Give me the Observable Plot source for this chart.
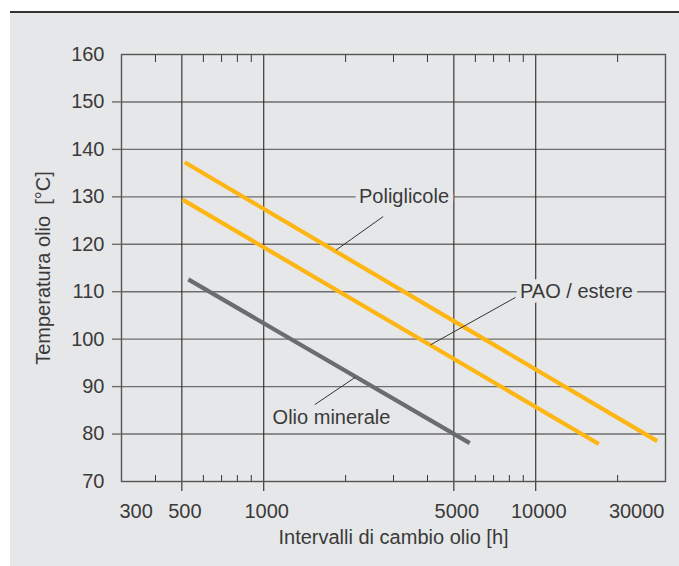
<!DOCTYPE html>
<html>
<head>
<meta charset="utf-8">
<script src="https://cdn.jsdelivr.net/npm/d3@7"></script>
<script src="https://cdn.jsdelivr.net/npm/@observablehq/plot@0.6"></script>
<style>
  html, body { margin: 0; padding: 0; background: #ffffff; }
  #page { position: relative; width: 679px; height: 566px; overflow: hidden; }
  #rule { position: absolute; left: 10px; top: 11px; width: 669px; height: 2px; background: #333333; }
  #panel { position: absolute; left: 10px; top: 13px; width: 669px; height: 553px; background: #e6e7e8; }
  #chart { position: absolute; left: 0; top: 0; }
</style>
</head>
<body>
<div id="page">
  <div id="rule"></div>
  <div id="panel"></div>
  <div id="chart"></div>
</div>
<script>
// ---- data ----
const seriesNames = ["Poliglicole", "PAO / estere", "Olio minerale"];
const poliglicoleHours = [512, 27980];
const poliglicoleTemp = [137.3, 78.5];
const paoHours = [503, 17060];
const paoTemp = [129.4, 77.9];
const mineraleHours = [528, 5720];
const mineraleTemp = [112.6, 78.1];

const xMajorTicks = [500, 1000, 5000, 10000];
const xMajorLabels = ["500", "1000", "5000", "10000"];
const xEdgeTicks = [300, 30000];
const xEdgeLabels = ["300", "30000"];
const xMinorTicks = [400, 600, 700, 800, 900, 2000, 3000, 4000, 6000, 7000, 8000, 9000, 20000];
const yGridTicks = [80, 90, 100, 110, 120, 130, 140, 150];
const yEdgeTicks = [70, 160];

// label anchors (data units) and leader lines
const labelHours = [3280, 14120, 1775];
const labelTemp = [130, 110, 83.4];
const leaderHours1 = [2750, 8427, 1541];
const leaderTemp1 = [125.85, 108.8, 86.2];
const leaderHours2 = [1847, 4104, 2175];
const leaderTemp2 = [118.8, 98.8, 92.0];

const xTitle = "Intervalli di cambio olio [h]";
const yTitle = "Temperatura olio  [°C]";

const colors = {"Poliglicole": "#fdb614", "PAO / estere": "#fdb614", "Olio minerale": "#6b6c6e"};

// ---- build tables ----
const lines = [];
[[poliglicoleHours, poliglicoleTemp], [paoHours, paoTemp], [mineraleHours, mineraleTemp]].forEach(([h, t], i) => {
  h.forEach((v, j) => lines.push({series: seriesNames[i], h: v, t: t[j]}));
});
const labels = seriesNames.map((s, i) => ({series: s, h: labelHours[i], t: labelTemp[i]}));
const leaders = seriesNames.map((s, i) => ({h1: leaderHours1[i], t1: leaderTemp1[i], h2: leaderHours2[i], t2: leaderTemp2[i]}));
const majorLabelRows = xMajorTicks.map((v, i) => ({v, label: xMajorLabels[i]}));

const textColor = "#3a3a3a";
const gridGray = "#6e6e6e";
const bg = "#e6e7e8";
const fs = 20;

const chart = Plot.plot({
  width: 679,
  height: 566,
  marginLeft: 121,
  marginRight: 14,
  marginTop: 54,
  marginBottom: 85,
  style: {fontFamily: "'Liberation Sans', Arial, sans-serif", fontSize: fs + "px", color: textColor, background: "transparent", overflow: "visible"},
  x: {type: "log", domain: [300, 30000]},
  y: {domain: [70, 160]},
  marks: [
    // horizontal grid + outside ticks
    Plot.gridY(yGridTicks, {stroke: gridGray, strokeOpacity: 1, strokeWidth: 1.4}),
    Plot.axisY(yGridTicks, {tickSize: 9, tickPadding: 8, stroke: gridGray, strokeWidth: 1.4, fill: textColor, fontSize: fs, label: null}),
    Plot.axisY(yEdgeTicks, {tickSize: 0, tickPadding: 17, fill: textColor, fontSize: fs, label: yTitle, labelAnchor: "center", labelOffset: 86, labelArrow: "none"}),
    // vertical grid + outside ticks
    Plot.gridX(xMajorTicks, {stroke: "#2b2b2b", strokeOpacity: 1, strokeWidth: 1.1}),
    Plot.axisX(xMajorTicks, {tickSize: 10, tickPadding: 12, stroke: "#2b2b2b", strokeWidth: 1.1, fill: textColor, fontSize: fs,
      tickFormat: () => "", label: xTitle, labelAnchor: "center", labelOffset: 62, labelArrow: "none"}),
    Plot.text(majorLabelRows, {x: "v", text: "label", frameAnchor: "bottom", lineAnchor: "top", dy: 22, dx: 3, fill: textColor, fontSize: fs}),
    Plot.text([xEdgeTicks[0]], {x: (d) => d, text: () => xEdgeLabels[0], frameAnchor: "bottom", lineAnchor: "top", textAnchor: "start", dy: 22, dx: -2, fill: textColor, fontSize: fs}),
    Plot.text([xEdgeTicks[1]], {x: (d) => d, text: () => xEdgeLabels[1], frameAnchor: "bottom", lineAnchor: "top", textAnchor: "end", dy: 22, dx: -1, fill: textColor, fontSize: fs}),
    // minor ticks, inside the frame
    Plot.axisX(xMinorTicks, {anchor: "bottom", tickSize: -6, stroke: "#333", tickFormat: () => "", label: null}),
    Plot.axisX(xMinorTicks, {anchor: "top", tickSize: -7, stroke: "#333", tickFormat: () => "", label: null}),
    Plot.frame({stroke: "#555", strokeWidth: 1.4}),
    // series
    Plot.line(lines, {x: "h", y: "t", z: "series", stroke: (d) => colors[d.series], strokeWidth: 4.2, strokeLinecap: "butt"}),
    // leaders
    Plot.link(leaders, {x1: "h1", y1: "t1", x2: "h2", y2: "t2", stroke: "#333", strokeWidth: 1}),
    // labels with background halo
    Plot.text(labels, {x: "h", y: "t", text: "series", fill: textColor, stroke: bg, strokeWidth: 10, fontSize: fs})
  ]
});
document.getElementById("chart").appendChild(chart);
</script>
</body>
</html>
